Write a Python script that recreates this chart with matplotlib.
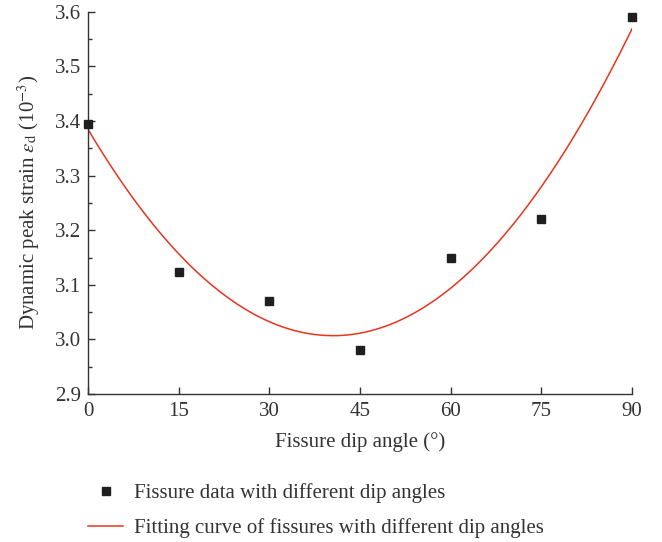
import numpy as np
import matplotlib.pyplot as plt
from matplotlib.ticker import MultipleLocator

plt.rcParams['font.family'] = ['Liberation Serif', 'DejaVu Serif']
plt.rcParams['mathtext.fontset'] = 'stix'

# fissure dip angle (deg) and measured dynamic peak strain (10^-3)
angle = [0, 15, 30, 45, 60, 75, 90]
strain = [3.395, 3.123, 3.07, 2.98, 3.15, 3.22, 3.59]

xticks = [0, 15, 30, 45, 60, 75, 90]

# quadratic fit of the data
coef = np.polyfit(angle, strain, 2)
xf = np.linspace(0, 90, 300)
yf = np.polyval(coef, xf)

fig = plt.figure(figsize=(6.62, 5.42), dpi=100)
ax = fig.add_axes([0.1329, 0.2731, 0.8218, 0.705])

ax.plot(angle, strain, 's', color='#1f1f1f', ms=6, clip_on=False, zorder=3,
        label='Fissure data with different dip angles')
ax.plot(xf, yf, '-', color='#e8341c', lw=1.1,
        label='Fitting curve of fissures with different dip angles')

ax.set_xlim(0, 90)
ax.set_ylim(2.9, 3.6)
ax.set_xticks(xticks)
ax.yaxis.set_major_locator(MultipleLocator(0.1))
ax.yaxis.set_minor_locator(MultipleLocator(0.05))
ax.yaxis.set_major_formatter(plt.FormatStrFormatter('%.1f'))

ax.spines['top'].set_visible(False)
ax.spines['right'].set_visible(False)
for s in ['left', 'bottom']:
    ax.spines[s].set_linewidth(1.0)
    ax.spines[s].set_color('#333333')

ax.tick_params(direction='in', length=5, width=1.0, labelsize=15, colors='#333333')
ax.tick_params(axis='x', pad=6)
ax.tick_params(axis='y', pad=5)
ax.tick_params(which='minor', direction='in', length=3, width=1.0, colors='#333333')

ax.set_xlabel('Fissure dip angle (°)', fontsize=15, color='#333333', labelpad=8)
ax.set_ylabel(r'Dynamic peak strain $\varepsilon_{\rm d}$ (10$^{-3}$)', fontsize=15,
              color='#333333', labelpad=9)

leg = fig.legend(loc='upper left', bbox_to_anchor=(88 / 662, 1 - 483 / 542),
                 frameon=False, borderpad=0, borderaxespad=0,
                 fontsize=15, handlelength=1.68, handletextpad=0.55, labelspacing=0.72,
                 labelcolor='#333333', markerscale=0.9)

fig.savefig('out.png', dpi=100)
